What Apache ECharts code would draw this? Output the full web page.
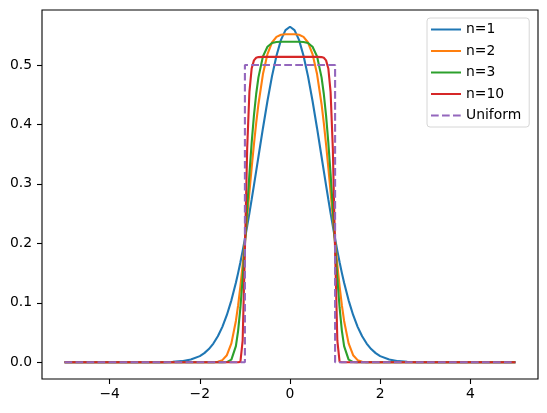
<!DOCTYPE html>
<html>
<head>
<meta charset="utf-8">
<script src="https://cdn.jsdelivr.net/npm/echarts@6/dist/echarts.min.js"></script>
<style>
  html, body { margin: 0; padding: 0; background: #fff; }
  #chart { width: 547px; height: 413px; }
</style>
</head>
<body>
<div id="chart"></div>
<script>
// x positions shared by the smooth curves
const xs = [-5, -4, -3.5, -3, -2.8, -2.6, -2.4, -2.2, -2, -1.9, -1.8, -1.7, -1.6, -1.5, -1.4, -1.3, -1.2, -1.15, -1.1, -1.05,
  -1, -0.95, -0.9, -0.85, -0.8, -0.75, -0.7, -0.6, -0.5, -0.4, -0.3, -0.2, -0.1, 0,
  0.1, 0.2, 0.3, 0.4, 0.5, 0.6, 0.7, 0.75, 0.8, 0.85, 0.9, 0.95, 1, 1.05, 1.1, 1.15, 1.2, 1.3, 1.4, 1.5,
  1.6, 1.7, 1.8, 1.9, 2, 2.2, 2.4, 2.6, 2.8, 3, 3.5, 4, 5]

const n1 = [0, 0, 0, 0.0001, 0.0002, 0.0007, 0.0018, 0.0045, 0.0103, 0.0153, 0.0221, 0.0314, 0.0436, 0.0595, 0.0795, 0.1041, 0.1337, 0.1503, 0.1682, 0.1873,
  0.2076, 0.2288, 0.2510, 0.2739, 0.2975, 0.3215, 0.3456, 0.3936, 0.4394, 0.4808, 0.5156, 0.5421, 0.5586, 0.5642,
  0.5586, 0.5421, 0.5156, 0.4808, 0.4394, 0.3936, 0.3456, 0.3215, 0.2975, 0.2739, 0.2510, 0.2288, 0.2076, 0.1873, 0.1682, 0.1503, 0.1337, 0.1041, 0.0795, 0.0595,
  0.0436, 0.0314, 0.0221, 0.0153, 0.0103, 0.0045, 0.0018, 0.0007, 0.0002, 0.0001, 0, 0, 0]

const n2 = [0, 0, 0, 0, 0, 0, 0, 0, 0, 0, 0, 0.0001, 0.0008, 0.0035, 0.0118, 0.0317, 0.0694, 0.0960, 0.1276, 0.1636,
  0.2029, 0.2443, 0.2862, 0.3273, 0.3662, 0.4020, 0.4339, 0.4846, 0.5182, 0.5377, 0.5472, 0.5508, 0.5516, 0.5516,
  0.5516, 0.5508, 0.5472, 0.5377, 0.5182, 0.4846, 0.4339, 0.4020, 0.3662, 0.3273, 0.2862, 0.2443, 0.2029, 0.1636, 0.1276, 0.0960, 0.0694, 0.0317, 0.0118, 0.0035,
  0.0008, 0.0001, 0, 0, 0, 0, 0, 0, 0, 0, 0, 0, 0]

const n3 = [0, 0, 0, 0, 0, 0, 0, 0, 0, 0, 0, 0, 0, 0, 0.0003, 0.0043, 0.0272, 0.0533, 0.0917, 0.1411,
  0.1983, 0.2584, 0.3168, 0.3696, 0.4147, 0.4511, 0.4791, 0.5144, 0.5306, 0.5368, 0.5386, 0.5390, 0.5390, 0.5390,
  0.5390, 0.5390, 0.5386, 0.5368, 0.5306, 0.5144, 0.4791, 0.4511, 0.4147, 0.3696, 0.3168, 0.2584, 0.1983, 0.1411, 0.0917, 0.0533, 0.0272, 0.0043, 0.0003, 0,
  0, 0, 0, 0, 0, 0, 0, 0, 0, 0, 0, 0, 0]

const n10 = [0, 0, 0, 0, 0, 0, 0, 0, 0, 0, 0, 0, 0, 0, 0, 0, 0, 0, 0.0006, 0.0362,
  0.1889, 0.3589, 0.4548, 0.4941, 0.5077, 0.5120, 0.5132, 0.5136, 0.5136, 0.5136, 0.5136, 0.5136, 0.5136, 0.5136,
  0.5136, 0.5136, 0.5136, 0.5136, 0.5136, 0.5136, 0.5132, 0.5120, 0.5077, 0.4941, 0.4548, 0.3589, 0.1889, 0.0362, 0.0006, 0, 0, 0, 0, 0,
  0, 0, 0, 0, 0, 0, 0, 0, 0, 0, 0, 0, 0]

const uniformX = [-5, -1, -1, 1, 1, 5]
const uniformY = [0, 0, 0.5, 0.5, 0, 0]

const xTicks = [-4, -2, 0, 2, 4]
const yTicks = [0, 0.1, 0.2, 0.3, 0.4, 0.5]

const pair = (x, y) => x.map((v, i) => [v, y[i]])

const font = 'DejaVu Sans'
const chart = echarts.init(document.getElementById('chart'))

const lineSeries = (name, color, data, type) => ({
  name: name,
  type: 'line',
  symbol: 'none',
  smooth: false,
  lineStyle: { color: color, width: 2.1, type: type || 'solid' },
  itemStyle: { color: color },
  data: data
})

const option = {
  animation: false,
  grid: {
    left: 42,
    top: 10,
    width: 496,
    height: 369,
    show: true,
    borderColor: '#000',
    borderWidth: 1.1,
    backgroundColor: '#fff'
  },
  legend: {
    orient: 'vertical',
    left: 427,
    top: 18,
    padding: [4.5, 8, 4.5, 3],
    itemWidth: 30,
    itemHeight: 14,
    itemGap: 7.5,
    backgroundColor: '#fff',
    borderColor: '#d6d6d6',
    borderWidth: 1,
    borderRadius: 3,
    itemStyle: { opacity: 0 },
    textStyle: { fontFamily: font, fontSize: 13.9, color: '#000' },
    data: ['n=1', 'n=2', 'n=3', 'n=10', 'Uniform']
  },
  xAxis: {
    type: 'value',
    min: -5.5,
    max: 5.5,
    axisLine: { show: false, onZero: false },
    splitLine: { show: false },
    axisTick: { show: true, length: 5, lineStyle: { color: '#000', width: 1.1 }, customValues: xTicks },
    axisLabel: {
      customValues: xTicks,
      margin: 8,
      fontFamily: font,
      fontSize: 13.9,
      color: '#000',
      formatter: v => String(v).replace('-', '\u2212')
    }
  },
  yAxis: {
    type: 'value',
    min: -0.0282,
    max: 0.5924,
    axisLine: { show: false, onZero: false },
    splitLine: { show: false },
    axisTick: { show: true, length: 5, lineStyle: { color: '#000', width: 1.1 }, customValues: yTicks },
    axisLabel: {
      customValues: yTicks,
      margin: 10,
      fontFamily: font,
      fontSize: 13.9,
      color: '#000',
      formatter: v => v.toFixed(1)
    }
  },
  series: [
    lineSeries('n=1', '#1f77b4', pair(xs, n1)),
    lineSeries('n=2', '#ff7f0e', pair(xs, n2)),
    lineSeries('n=3', '#2ca02c', pair(xs, n3)),
    lineSeries('n=10', '#d62728', pair(xs, n10)),
    lineSeries('Uniform', '#9467bd', pair(uniformX, uniformY), [7.7, 3.3])
  ]
}

chart.setOption(option)
</script>
</body>
</html>
